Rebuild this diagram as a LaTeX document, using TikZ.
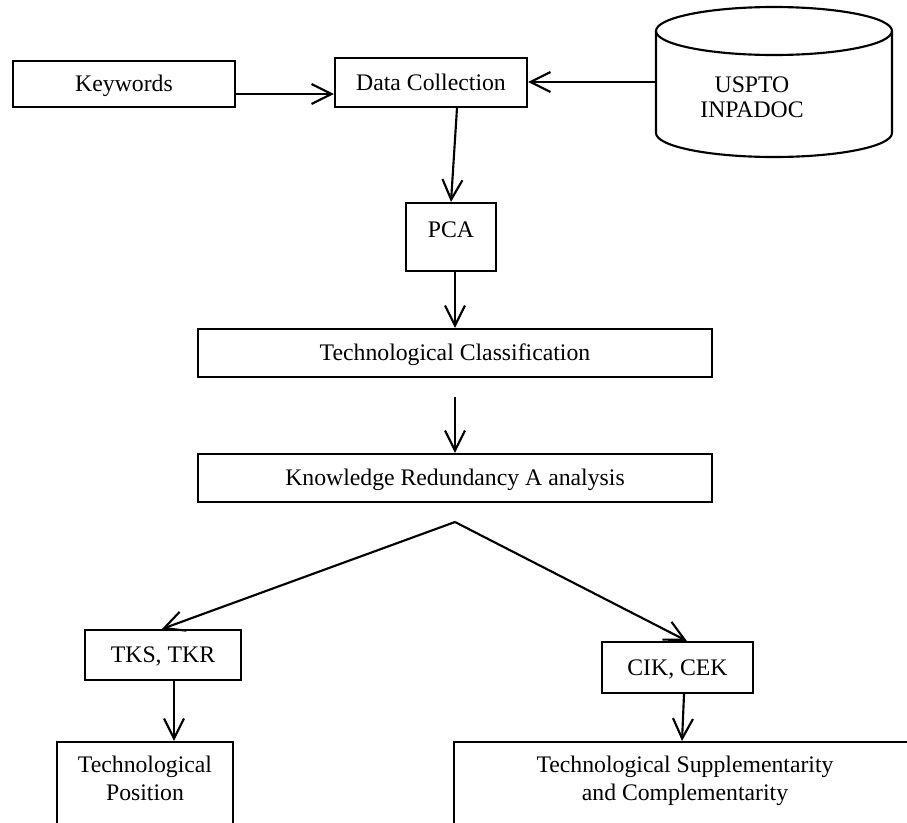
\documentclass[tikz,border=0pt]{standalone}
\usepackage{fontspec}
\setmainfont{Liberation Serif}
\usetikzlibrary{arrows.meta,calc}
\begin{document}
\begin{tikzpicture}[x=0.75pt,y=-0.75pt, line width=1.6pt,
  font=\fontsize{17.8pt}{21pt}\selectfont,
  box/.style={draw, rectangle, inner sep=0pt},
  oneline/.style={text height=11.8pt, text depth=0pt},
  arr/.style={-{Straight Barb[length=15pt,width=15pt]}}]
\useasboundingbox (0,0) rectangle (907,822);
\clip (0,0) rectangle (907,822);

% nodes
\node[box, oneline, minimum width=166.5pt, minimum height=34.5pt] (kw) at (124,84) {Keywords};
\node[box, oneline, minimum width=144pt, minimum height=36.75pt] (dc) at (431,82.5) {Data Collection};

% database cylinder
\draw (656,31) -- (656,133) arc[start angle=180, end angle=0, x radius=118, y radius=24] -- (892,31);
\draw (774,31) ellipse [x radius=118, y radius=24];
\node[align=center, font=\fontsize{17.8pt}{18.75pt}\selectfont] (db) at (752,97) {USPTO\\INPADOC};
\coordinate (dbw) at (656,82);

\node[box, minimum width=67.5pt, minimum height=51pt, text height=11.8pt, text depth=10.5pt] (pca) at (451,237) {PCA};
\node[box, oneline, minimum width=385.5pt, minimum height=36pt] (tc) at (455,353) {Technological Classification};
\coordinate (gap) at (455,397);
\node[box, oneline, minimum width=385.5pt, minimum height=36pt] (kn) at (455,478) {Knowledge Redundancy A analysis};
\coordinate (apex) at (455,522);
\node[box, oneline, minimum width=117pt, minimum height=37.5pt] (tks) at (163,655) {TKS, TKR};
\node[box, oneline, minimum width=113.25pt, minimum height=38.25pt] (cik) at (677.5,667.5) {CIK, CEK};
\node[box, minimum width=132pt, minimum height=82.5pt, align=center, text depth=28.5pt] (pos) at (145,797) {Technological\\Position};
\node[box, minimum width=346.5pt, minimum height=82.5pt, align=center, text depth=28.5pt] (sup) at (685,797) {Technological Supplementarity\\and Complementarity};

% connectors
\draw[arr] ([yshift=-7.5pt]kw.east) -- ([yshift=-7.5pt]kw.east -| dc.west);
\draw[arr] (dbw) -- (dbw -| dc.east);
\draw[arr] ([xshift=19.5pt]dc.south) -- (pca.north);
\draw[arr] ([xshift=3pt]pca.south) -- (tc.north);
\draw[arr] (gap) -- (kn.north);
\draw[arr] (apex) -- ([xshift=-0.75pt]tks.north);
\draw[arr] (apex) -- ([xshift=7pt]cik.north);
\draw[arr] ([xshift=8.25pt]tks.south) -- ([xshift=8.25pt]tks.south |- pos.north);
\draw[arr] ([xshift=4.9pt]cik.south) -- ([xshift=-2.25pt]sup.north);
\end{tikzpicture}
\end{document}
